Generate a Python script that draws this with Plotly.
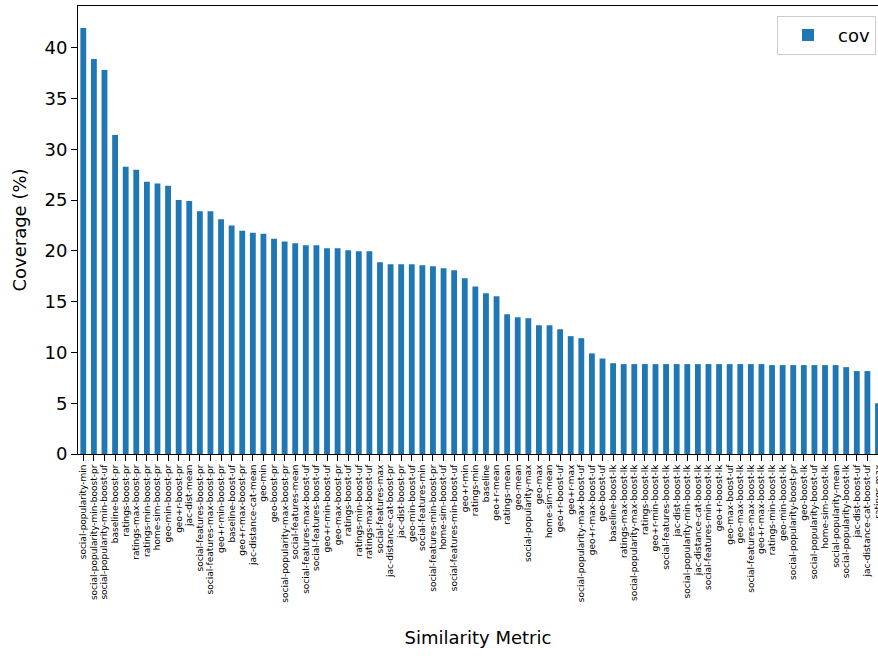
import plotly.graph_objects as go

labels = [
    "social-popularity-min", "social-popularity-min-boost-pr", "social-popularity-min-boost-uf",
    "baseline-boost-pr", "ratings-boost-pr", "ratings-max-boost-pr", "ratings-min-boost-pr",
    "home-sim-boost-pr", "geo-min-boost-pr", "geo+r-boost-pr", "jac-dist-mean",
    "social-features-boost-pr", "social-features-max-boost-pr", "geo+r-min-boost-pr",
    "baseline-boost-uf", "geo+r-max-boost-pr", "jac-distance-cat-mean", "geo-min",
    "geo-boost-pr", "social-popularity-max-boost-pr", "social-features-mean",
    "social-features-max-boost-uf", "social-features-boost-uf", "geo+r-min-boost-uf",
    "geo-max-boost-pr", "ratings-boost-uf", "ratings-min-boost-uf", "ratings-max-boost-uf",
    "social-features-max", "jac-distance-cat-boost-pr", "jac-dist-boost-pr", "geo-min-boost-uf",
    "social-features-min", "social-features-min-boost-pr", "home-sim-boost-uf",
    "social-features-min-boost-uf", "geo+r-min", "ratings-min", "baseline", "geo+r-mean",
    "ratings-mean", "geo-mean", "social-popularity-max", "geo-max", "home-sim-mean",
    "geo+r-boost-uf", "geo+r-max", "social-popularity-max-boost-uf", "geo+r-max-boost-uf",
    "geo-boost-uf", "baseline-boost-lk", "ratings-max-boost-lk", "social-popularity-max-boost-lk",
    "ratings-boost-lk", "geo+r-min-boost-lk", "social-features-boost-lk", "jac-dist-boost-lk",
    "social-popularity-min-boost-lk", "jac-distance-cat-boost-lk", "social-features-min-boost-lk",
    "geo+r-boost-lk", "geo-max-boost-uf", "geo-max-boost-lk", "social-features-max-boost-lk",
    "geo+r-max-boost-lk", "ratings-min-boost-lk", "geo-min-boost-lk", "social-popularity-boost-pr",
    "geo-boost-lk", "social-popularity-boost-uf", "home-sim-boost-lk", "social-popularity-mean",
    "social-popularity-boost-lk", "jac-dist-boost-uf", "jac-distance-cat-boost-uf", "ratings-max",
]

cov = [
    41.94, 38.89, 37.8, 31.4, 28.27, 27.97, 26.8, 26.63, 26.4, 25.0,
    24.9, 23.9, 23.9, 23.1, 22.5, 21.97, 21.78, 21.68, 21.19, 20.93,
    20.74, 20.54, 20.54, 20.25, 20.25, 20.05, 19.95, 19.95, 18.87, 18.67,
    18.67, 18.67, 18.57, 18.47, 18.28, 18.08, 17.3, 16.5, 15.82, 15.53,
    13.76, 13.46, 13.37, 12.68, 12.68, 12.28, 11.6, 11.4, 9.9, 9.4,
    8.94, 8.85, 8.85, 8.85, 8.85, 8.85, 8.85, 8.85, 8.85, 8.85,
    8.85, 8.85, 8.85, 8.85, 8.85, 8.75, 8.75, 8.75, 8.75, 8.75,
    8.75, 8.75, 8.55, 8.16, 8.16, 5.0,
]

y_ticks = [0, 5, 10, 15, 20, 25, 30, 35, 40]

fig = go.Figure()
fig.add_trace(go.Bar(
    x=labels, y=cov, name="cov",
    marker=dict(color="#1f77b4", line=dict(width=0)),
    showlegend=True,
))

fig.update_layout(
    width=878, height=656,
    margin=dict(l=78, r=0, t=6, b=201.5),
    paper_bgcolor="white", plot_bgcolor="white",
    font=dict(family="DejaVu Sans", color="black"),
    bargap=0.45,
    showlegend=True,
    legend=dict(
        x=0.9975, y=0.978, xanchor="right", yanchor="top",
        bgcolor="rgba(255,255,255,0.8)", bordercolor="#cccccc", borderwidth=1,
        font=dict(size=18, family="DejaVu Sans"),
        itemwidth=50,
    ),
)

fig.update_xaxes(
    type="category",
    range=[-0.5, 75.0],
    tickmode="array", tickvals=labels, ticktext=labels,
    tickangle=-90,
    tickfont=dict(size=9, family="DejaVu Sans"),
    ticks="outside", ticklen=6, tickwidth=1, tickcolor="black",
    showline=True, linecolor="black", linewidth=1, mirror=True,
    showgrid=False, zeroline=False,
    automargin=False,
    title=dict(text="Similarity Metric", font=dict(size=18, family="DejaVu Sans"), standoff=29),
)

fig.update_yaxes(
    range=[0, 44.1],
    tickmode="array", tickvals=y_ticks, ticktext=[str(v) for v in y_ticks],
    tickfont=dict(size=18, family="DejaVu Sans"),
    ticks="outside", ticklen=6, tickwidth=1, tickcolor="black",
    showline=True, linecolor="black", linewidth=1, mirror=False,
    showgrid=False, zeroline=False,
    automargin=False,
    title=dict(text="Coverage (%)", font=dict(size=18, family="DejaVu Sans"), standoff=13),
)

fig.write_html(
    "out.html",
    config={"displayModeBar": False},
    post_script="document.body.style.margin='0';document.body.style.overflow='hidden';",
)
